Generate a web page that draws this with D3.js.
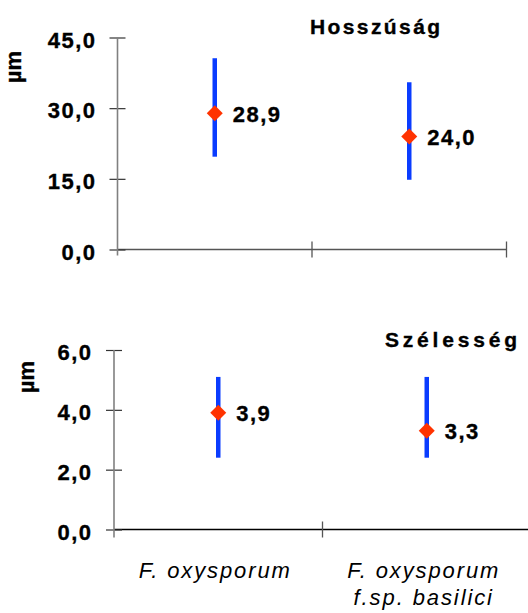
<!DOCTYPE html>
<html>
<head>
<meta charset="utf-8">
<script src="https://cdn.jsdelivr.net/npm/d3@7"></script>
<style>
  html, body { margin: 0; padding: 0; background: #fff; }
  svg { display: block; }
  text { font-family: "Liberation Sans", Arial, sans-serif; fill: #000; }
  text.heavy { stroke: #000; stroke-width: 0.35px; }
</style>
</head>
<body>
<svg id="chart" width="528" height="613"></svg>
<script>
// Species (categories along the shared x axis)
const categories = ["F. oxysporum", "F. oxysporum|f.sp. basilici"];

// Conidium length (µm): mean with lower / upper range
const lengthMean = [28.9, 24.0];
const lengthLow  = [19.7, 14.8];
const lengthHigh = [40.6, 35.5];
const lengthTicks = [0, 15, 30, 45];

// Conidium width (µm): mean with lower / upper range
const widthMean = [3.9, 3.3];
const widthLow  = [2.4, 2.4];
const widthHigh = [5.1, 5.1];
const widthTicks = [0, 2, 4, 6];

const titles = ["Hosszúság", "Szélesség"];
const unitLabel = "µm";

const huFormat = d3.formatLocale({ decimal: ",", thousands: " ", grouping: [3], currency: ["", " Ft"] }).format(".1f");

const svg = d3.select("#chart");

const panels = [
  { title: titles[0], mean: lengthMean, low: lengthLow, high: lengthHigh, ticks: lengthTicks,
    x0: 117.5, x1: 506.5, y0: 249.5, y1: 37.5, axisBottomExtra: 6, xAxisColor: "#555",
    titleX: 310, titleY: 34, titleSpacing: 2.4, unitX: 21, unitY: 67, tickPad: 13, showCats: false },
  { title: titles[1], mean: widthMean, low: widthLow, high: widthHigh, ticks: widthTicks,
    x0: 114, x1: 531, y0: 529.5, y1: 350, axisBottomExtra: 8, xAxisColor: "#000",
    titleX: 385, titleY: 347, titleSpacing: 3.8, unitX: 34, unitY: 377, tickPad: 13.5, showCats: true }
];

panels.forEach(p => {
  const g = svg.append("g");
  const y = d3.scaleLinear().domain([d3.min(p.ticks), d3.max(p.ticks)]).range([p.y0, p.y1]);
  const x = d3.scaleBand().domain(categories).range([p.x0, p.x1]).padding(0);

  // x axis: baseline with ticks at the category boundaries
  const bounds = [x.range()[0]].concat(categories.map(c => x(c) + x.bandwidth()));
  g.append("line")
    .attr("x1", p.x0).attr("x2", p.x1)
    .attr("y1", y(0)).attr("y2", y(0))
    .attr("stroke", p.xAxisColor).attr("stroke-width", 1.3);
  g.selectAll(".xtick").data(bounds.slice(1)).join("line")
    .attr("class", "xtick")
    .attr("x1", d => d).attr("x2", d => d)
    .attr("y1", y(0) - 8).attr("y2", y(0) + 8)
    .attr("stroke", "#555").attr("stroke-width", 1.3);

  // y axis with ticks crossing the axis line
  const yAxis = g.append("g")
    .attr("transform", `translate(${p.x0},0)`)
    .call(d3.axisLeft(y).tickValues(p.ticks).tickSizeInner(8).tickSizeOuter(0).tickPadding(p.tickPad).tickFormat(huFormat));
  yAxis.select(".domain").remove();
  yAxis.append("line")
    .attr("x1", 0).attr("x2", 0)
    .attr("y1", y(d3.max(p.ticks))).attr("y2", y(0) + p.axisBottomExtra)
    .attr("stroke", "#808080").attr("stroke-width", 1.6);
  yAxis.selectAll(".tick line").attr("x1", 8).attr("stroke", "#333").attr("stroke-width", 1.2);
  yAxis.selectAll(".tick text")
    .attr("class", "heavy")
    .attr("dy", "0.44em")
    .style("font-family", "'Liberation Sans', Arial, sans-serif")
    .style("font-size", "22px").style("font-weight", "bold")
    .style("letter-spacing", "1.5px")
    .attr("fill", "#000");

  // unit label
  g.append("text")
    .attr("class", "heavy")
    .attr("transform", `translate(${p.unitX},${p.unitY}) rotate(-90)`)
    .attr("text-anchor", "middle")
    .style("font-size", "22px").style("font-weight", "bold")
    .text(unitLabel);

  // panel title
  g.append("text")
    .attr("class", "heavy")
    .attr("x", p.titleX).attr("y", p.titleY)
    .style("font-size", "21px").style("font-weight", "bold")
    .style("letter-spacing", p.titleSpacing + "px")
    .text(p.title);

  const cx = c => x(c) + x.bandwidth() / 2;

  // range bars
  g.selectAll(".range").data(categories).join("line")
    .attr("class", "range")
    .attr("x1", cx).attr("x2", cx)
    .attr("y1", (c, i) => y(p.high[i])).attr("y2", (c, i) => y(p.low[i]))
    .attr("stroke", "#0a3cff").attr("stroke-width", 4.5);

  // mean markers (diamonds)
  g.selectAll(".mean").data(categories).join("path")
    .attr("class", "mean")
    .attr("d", (c, i) => {
      const px = cx(c), py = y(p.mean[i]), r = 8;
      return `M${px},${py - r}L${px + r},${py}L${px},${py + r}L${px - r},${py}Z`;
    })
    .attr("fill", "#ff3300");

  // value labels
  g.selectAll(".val").data(categories).join("text")
    .attr("class", "val heavy")
    .attr("x", c => cx(c) + 18)
    .attr("y", (c, i) => y(p.mean[i]))
    .attr("dy", "0.38em")
    .style("font-size", "22px").style("font-weight", "bold")
    .style("letter-spacing", "1.5px")
    .text((c, i) => huFormat(p.mean[i]));

  // category labels under the lower panel
  if (p.showCats) {
    const cat = g.selectAll(".cat").data(categories).join("text")
      .attr("class", "cat")
      .attr("text-anchor", "middle")
      .attr("x", c => cx(c) - 3)
      .attr("y", 578)
      .style("font-size", "22px").style("font-style", "italic")
      .style("letter-spacing", "1.9px");
    cat.selectAll("tspan").data(c => c.split("|")).join("tspan")
      .attr("x", function () { return d3.select(this.parentNode).attr("x"); })
      .attr("dy", (d, i) => i === 0 ? 0 : 27)
      .text(d => d);
  }
});
</script>
</body>
</html>
